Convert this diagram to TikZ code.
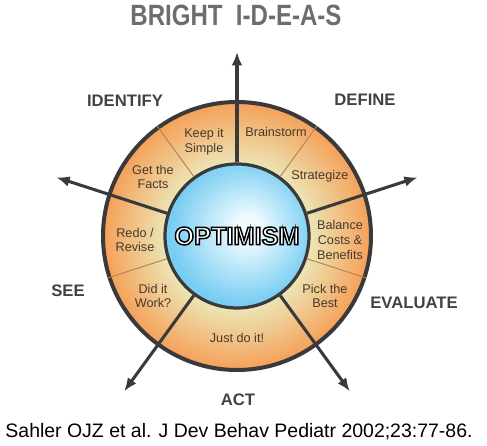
\documentclass[tikz,border=0pt]{standalone}
\usepackage{fontspec}
\setmainfont{Liberation Sans}
\usetikzlibrary{arrows.meta,positioning,calc}
\definecolor{ringorange}{RGB}{245,160,88}
\definecolor{ringpale}{RGB}{236,226,178}
\definecolor{skyedge}{RGB}{120,205,242}
\definecolor{skycore}{RGB}{240,251,255}
\definecolor{spoke}{RGB}{58,58,58}
\definecolor{divider}{RGB}{180,130,78}
\definecolor{stagegray}{RGB}{66,66,66}
\definecolor{titlegray}{RGB}{108,109,112}
\definecolor{inkbrown}{RGB}{70,58,45}
\pgfdeclareradialshading{ringshade}{\pgfpointorigin}{color(0bp)=(ringpale); color(14bp)=(ringpale); color(25bp)=(ringorange); color(50bp)=(ringorange)}
\pgfdeclareradialshading{skyshade}{\pgfpoint{4bp}{3bp}}{color(0bp)=(skycore); color(4bp)=(skycore); color(25bp)=(skyedge); color(50bp)=(skyedge)}
\newcommand\hollow[1]{\textcolor{white}{\special{pdf:literal direct 0.15 g 0 G 2 Tr 1.1 w}\special{pdf:literal direct 1 g}#1\special{pdf:literal direct 0 Tr}}}
\tikzset{
  ring/.style={circle,minimum size=201pt,inner sep=0pt,shading=ringshade,draw=spoke,line width=3pt},
  hub/.style={circle,minimum size=108pt,inner sep=0pt,shading=skyshade,draw=spoke,line width=2.4pt,font=\fontsize{19}{19}\selectfont\bfseries},
  spokearr/.style={-{Latex[length=10pt,width=8pt]},line width=2.3pt,draw=spoke},
  thin/.style={draw=divider,line width=0.7pt},
  sector/.style={align=center,font=\fontsize{9.5}{11}\selectfont,text=inkbrown,inner sep=1pt},
  stage/.style={font=\fontsize{12.5}{14}\selectfont\bfseries,text=stagegray},
}
\begin{document}
\begin{tikzpicture}[x=0.75pt,y=0.75pt]
\useasboundingbox (0,0) rectangle (487,446);
\coordinate (c) at (237,210);
\node[ring] (ring) at (c) {};
\node[hub] (opt) at (c) {\hollow{OPTIMISM}};
% thin lines inside each stage
\foreach \a in {54,-18,126,198} \draw[thin] (opt.\a) -- (ring.\a);
% the five arrows
\foreach \a/\r/\n in {90/184/up,18/190/right,162/190/left,234/192/lowleft,306/192/lowright} {
  \coordinate (tip-\n) at ($(c)+(\a:\r)$);
  \draw[spokearr] (opt.\a) -- (tip-\n);
}
\foreach \x/\y/\txt/\n in {204/304/{Keep it\\Simple}/s1,276/314/{Brainstorm}/s2,320/270/{Strategize}/s3,
  153/269/{Get the\\Facts}/s4,135/206/{Redo /\\Revise}/s5,340/206/{Balance\\Costs \&\\Benefits}/s6,
  153/150/{Did it\\Work?}/s7,325/150/{Pick the\\Best}/s8,237/108/{Just do it!}/s9}
  \node[sector] (\n) at (\x,\y) {\txt};
\node[stage] (identify) at (125,345) {IDENTIFY};
\node[stage] (define) at (365,346) {DEFINE};
\node[stage] (see) at (68,155) {SEE};
\node[stage] (evaluate) at (414,143) {EVALUATE};
\node[stage] (act) at (238,46) {ACT};
\node[font=\fontsize{22}{22}\selectfont\bfseries,text=titlegray,xscale=0.82] (title) at (236,431) {BRIGHT\ \ I-D-E-A-S};
\node[font=\fontsize{14.6}{16}\selectfont] (cite) at (239,14) {Sahler OJZ et al. J Dev Behav Pediatr 2002;23:77-86.};
\end{tikzpicture}
\end{document}
